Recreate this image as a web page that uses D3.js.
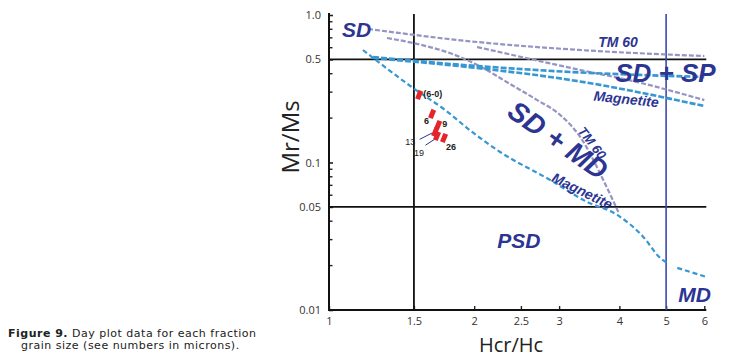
<!DOCTYPE html>
<html><head><meta charset="utf-8">
<script src="https://cdn.jsdelivr.net/npm/d3@7"></script>
<style>
body{margin:0;background:#fff;}
svg{display:block;}
</style></head>
<body><svg id="c" width="729" height="362"></svg>
<script>
// ---- data ----
const xTicks = [1, 1.5, 2, 2.5, 3, 4, 5, 6];
const xTickLabels = ["1", "1.5", "2", "2.5", "3", "4", "5", "6"];
const yTicks = [0.01, 0.05, 0.1, 0.5, 1.0];
const yTickLabels = ["0.01", "0.05", "0.1", "0.5", "1.0"];
const yMinorTicks = [0.02,0.03,0.04,0.06,0.07,0.08,0.09,0.2,0.3,0.4,0.6,0.7,0.8,0.9];
const boundaryHcr = [1.5, 5];
const boundaryMrMs = [0.5, 0.05];

// TM60 curves (Hcr/Hc, Mr/Ms)
const tm60UpperX = [1.205, 2.028, 3.318, 6.0];
const tm60UpperY = [0.804, 0.656, 0.579, 0.527];
const tm60SpLowX = [2.028, 3.318, 4.357, 6.0];
const tm60SpLowY = [0.607, 0.424, 0.351, 0.265];
const tm60MdX = [1.319, 1.494, 1.870, 2.087, 2.375, 2.702, 3.016, 3.318, 3.704, 3.98];
const tm60MdY = [0.698, 0.646, 0.519, 0.437, 0.340, 0.265, 0.210, 0.149, 0.0761, 0.0462];
// Magnetite curves
const magSpUpX = [1.234, 2.028, 3.163, 6.0];
const magSpUpY = [0.519, 0.451, 0.411, 0.380];
const magSpLowX = [1.234, 2.028, 3.163, 6.0];
const magSpLowY = [0.511, 0.437, 0.363, 0.2415];
const magMdX = [1.176, 1.494, 1.741, 1.980, 2.264, 2.874, 3.430, 3.960, 4.484, 4.863, 5.028];
const magMdY = [0.579, 0.320, 0.227, 0.161, 0.1178, 0.0761, 0.0540, 0.0441, 0.0313, 0.0225, 0.0208];
const magMdTailX = [5.274, 6.06];
const magMdTailY = [0.0193, 0.01674];

// samples
const sampleLabels = ["(6-0)", "6", "9", "13", "19", "26"];
const sampleHcrHc = [1.538, 1.636, 1.684, 1.660, 1.675, 1.732];
const sampleMrMs = [0.287, 0.2133, 0.1796, 0.161, 0.1512, 0.1466];

// ---- drawing ----
const svg = d3.select("#c");
const x = d3.scaleLog().domain([1, 6]).range([329, 704.3]);
const y = d3.scaleLog().domain([0.01, 1]).range([310, 15]);

const navy = "#2c3591", purple = "#9595c3", blue = "#3797d2";

// axes
const yAxis = d3.axisLeft(y).tickValues(yTicks).tickFormat((d,i)=>yTickLabels[i]).tickSizeInner(-4).tickSizeOuter(0).tickPadding(8);
const gy = svg.append("g").attr("transform","translate(329,0)").call(yAxis);
gy.selectAll(".tick text").attr("font-family","Open Sans, sans-serif").attr("font-size",11).attr("fill","#333");
gy.select(".domain").remove();
svg.append("g").selectAll("line").data(yMinorTicks).join("line")
  .attr("x1",329).attr("x2",332.5).attr("y1",d=>y(d)).attr("y2",d=>y(d)).attr("stroke","#222").attr("stroke-width",1.4);

const xAxis = d3.axisBottom(x).tickValues(xTicks).tickFormat((d,i)=>xTickLabels[i]).tickSizeInner(-4).tickSizeOuter(0).tickPadding(7);
const gx = svg.append("g").attr("transform","translate(0,310)").call(xAxis);
gx.selectAll(".tick text").attr("font-family","Open Sans, sans-serif").attr("font-size",11).attr("fill","#333");
gx.selectAll(".tick line").attr("stroke","#222").attr("stroke-width",1.4);
gy.selectAll(".tick line").attr("stroke","#222").attr("stroke-width",1.6);
gx.select(".domain").remove();

// axis lines
svg.append("line").attr("x1",x(1)).attr("x2",x(1)).attr("y1",y(1)-2).attr("y2",y(0.01)).attr("stroke","#111").attr("stroke-width",2);
svg.append("line").attr("x1",x(1)-1).attr("x2",x(6)+2).attr("y1",y(0.01)).attr("y2",y(0.01)).attr("stroke","#111").attr("stroke-width",2);

// boundaries
boundaryMrMs.forEach(v=>{
  svg.append("line").attr("x1",x(1)).attr("x2",x(6)+2).attr("y1",y(v)).attr("y2",y(v)).attr("stroke","#111").attr("stroke-width",1.8);
});
svg.append("line").attr("x1",x(boundaryHcr[0])).attr("x2",x(boundaryHcr[0])).attr("y1",y(1)-1).attr("y2",y(0.01)).attr("stroke","#111").attr("stroke-width",1.8);
svg.append("line").attr("x1",x(boundaryHcr[1])).attr("x2",x(boundaryHcr[1])).attr("y1",y(1)-1).attr("y2",y(0.01)).attr("stroke","#3a4ba8").attr("stroke-width",1.6);

// curves
const line = d3.line().x(d=>x(d[0])).y(d=>y(d[1])).curve(d3.curveMonotoneX);
function curve(xs, ys, color, w, dash){
  svg.append("path").datum(xs.map((v,i)=>[v, ys[i]]))
    .attr("d", line).attr("fill","none").attr("stroke",color).attr("stroke-width",w).attr("stroke-dasharray",dash);
}
curve(tm60UpperX, tm60UpperY, purple, 2.2, "5,2");
curve(tm60SpLowX, tm60SpLowY, purple, 2.2, "5,2");
curve(tm60MdX, tm60MdY, purple, 2.2, "5,2");
curve(magSpUpX, magSpUpY, blue, 2.6, "6,2");
curve(magSpLowX, magSpLowY, blue, 2.6, "6,2");
curve(magMdX, magMdY, blue, 2.2, "5,3");
curve(magMdTailX, magMdTailY, blue, 2.2, "5,3");

// text labels
function lab(txt, xv, yv, size, anchor, rot, dy){
  svg.append("text").attr("transform",`translate(${x(xv)},${y(yv)}) rotate(${rot||0})`)
    .attr("text-anchor",anchor).attr("dy",dy||0).attr("font-family","Liberation Sans, Arial, sans-serif")
    .attr("font-weight","bold").attr("font-style","italic").attr("font-size",size).attr("fill",navy).text(txt);
}
lab("SD", 1.064, 0.709, 21, "start");
lab("TM 60", 3.615, 0.607, 14, "start");
lab("SD + SP", 3.922, 0.351, 26, "start");
lab("Magnetite", 4.133, 0.2695, 14, "middle", 6, "0.35em");
lab("SD + MD", 2.987, 0.142, 28, "middle", 35, "0.35em");
lab("TM 60", 3.513, 0.1356, 13, "middle", 52, "0.35em");
lab("Magnetite", 3.35, 0.0641, 14, "middle", 26, "0.35em");
lab("PSD", 2.232, 0.0263, 21, "start");
lab("MD", 5.30, 0.01133, 21, "start");

// leader lines for 13 and 19
svg.append("line").attr("x1",x(1.541)).attr("y1",y(0.1435)).attr("x2",x(sampleHcrHc[3])-3).attr("y2",y(sampleMrMs[3])+1).attr("stroke",navy).attr("stroke-width",1);
svg.append("line").attr("x1",x(1.585)).attr("y1",y(0.131)).attr("x2",x(sampleHcrHc[4])-2).attr("y2",y(sampleMrMs[4])+3).attr("stroke",navy).attr("stroke-width",1);

// sample markers
svg.append("g").selectAll("rect").data(sampleHcrHc).join("rect")
  .attr("x",-2.5).attr("y",-4.5).attr("width",5).attr("height",9)
  .attr("transform",(d,i)=>`translate(${x(d)},${y(sampleMrMs[i])}) rotate(22)`)
  .attr("fill","#e3262b");

// sample labels
const labOff = [[4,2,"start"],[-3,10,"end"],[4,2,"start"],[-20,13,"end"],[-13,20,"end"],[2,12,"start"]];
svg.append("g").selectAll("text").data(sampleLabels).join("text")
  .attr("x",(d,i)=>x(sampleHcrHc[i])+labOff[i][0]).attr("y",(d,i)=>y(sampleMrMs[i])+labOff[i][1])
  .attr("text-anchor",(d,i)=>labOff[i][2])
  .attr("font-family","Liberation Sans, Arial, sans-serif").attr("font-size",9)
  .attr("font-weight",(d,i)=>(i===3||i===4)?"normal":"bold").attr("fill","#222").text(d=>d);

// axis titles
svg.append("text").attr("transform",`translate(${x(1)-30},${y(0.149)}) rotate(-90)`).attr("text-anchor","middle")
  .attr("font-family","Open Sans, sans-serif").attr("font-size",24).attr("fill","#222").text("Mr/Ms");
svg.append("text").attr("x",x(2.385)).attr("y",352).attr("text-anchor","middle")
  .attr("font-family","Open Sans, sans-serif").attr("font-size",20).attr("fill","#222").text("Hcr/Hc");

// caption
const cap = svg.append("text").attr("font-family","DejaVu Sans, Verdana, sans-serif").attr("font-size",11).attr("letter-spacing",0.5).attr("fill","#222");
cap.append("tspan").attr("x",8).attr("y",337).attr("font-weight","bold").text("Figure 9.");
cap.append("tspan").text(" Day plot data for each fraction");
cap.append("tspan").attr("x",21).attr("y",349).text("grain size (see numbers in microns).");
</script></body></html>
